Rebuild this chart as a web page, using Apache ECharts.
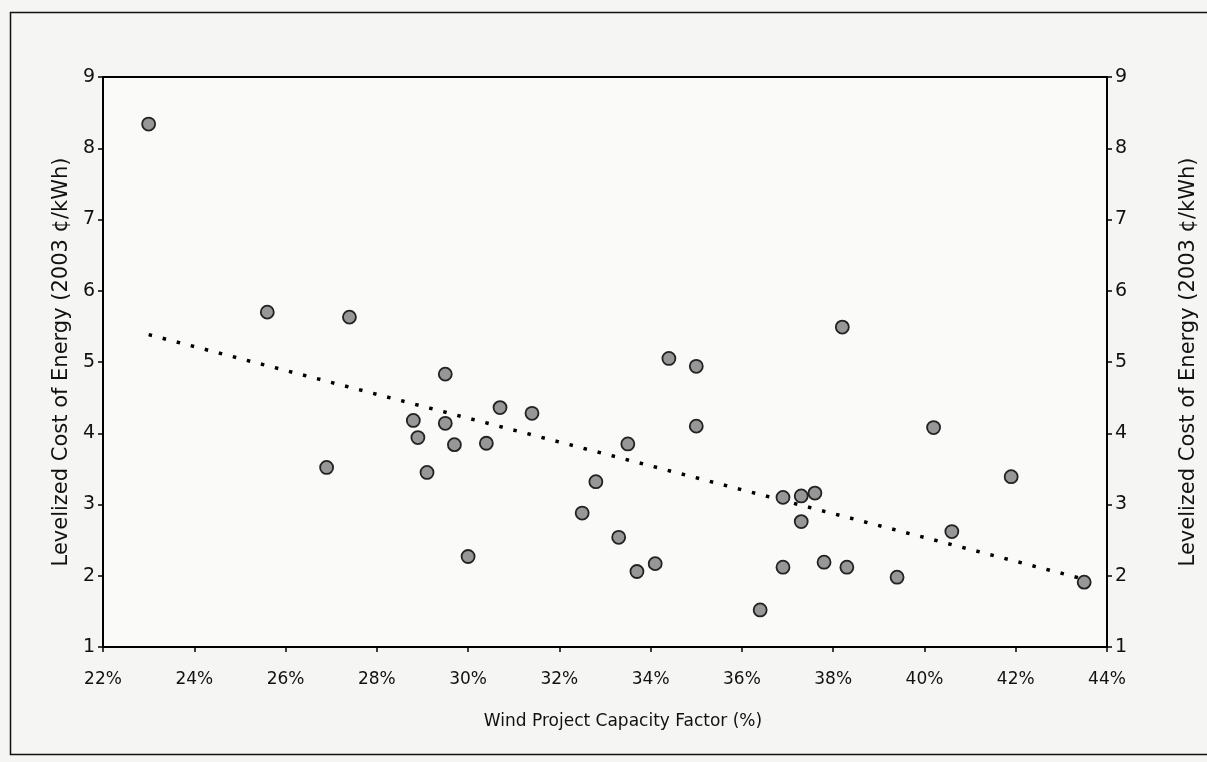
<!DOCTYPE html>
<html>
<head>
<meta charset="utf-8">
<script src="https://cdn.jsdelivr.net/npm/echarts@6/dist/echarts.min.js"></script>
<style>
html,body{margin:0;padding:0;background:#f5f5f3;}
#chart{width:1207px;height:762px;}
</style>
</head>
<body>
<div id="chart"></div>
<script>
// Wind project capacity factor (%) for each project
const capacityFactor = [
  23.0, 25.6, 27.4, 29.5, 34.4, 35.0, 38.2, 26.9, 28.8, 28.9,
  29.5, 29.7, 29.1, 30.7, 30.4, 31.4, 30.0, 32.8, 32.5, 33.5,
  35.0, 33.3, 33.7, 34.1, 36.9, 37.3, 37.6, 37.3, 36.9, 37.8,
  38.3, 36.4, 40.2, 41.9, 40.6, 39.4, 43.5
];
// Levelized cost of energy (2003 ¢/kWh) for each project
const levelizedCost = [
  8.34, 5.70, 5.63, 4.83, 5.05, 4.94, 5.49, 3.52, 4.18, 3.94,
  4.14, 3.84, 3.45, 4.36, 3.86, 4.28, 2.27, 3.32, 2.88, 3.85,
  4.10, 2.54, 2.06, 2.17, 3.10, 3.12, 3.16, 2.76, 2.12, 2.19,
  2.12, 1.52, 4.08, 3.39, 2.62, 1.98, 1.91
];
const xTicks = {min: 22, max: 44, step: 2};
const yTicks = {min: 1, max: 9, step: 1};
const xTitle = 'Wind Project Capacity Factor (%)';
const yTitle = 'Levelized Cost of Energy (2003 ¢/kWh)';

const points = capacityFactor.map((x, i) => [x, levelizedCost[i]]);

// Linear (least-squares) trendline, as in the spreadsheet chart
const n = points.length;
const mx = capacityFactor.reduce((a, b) => a + b, 0) / n;
const my = levelizedCost.reduce((a, b) => a + b, 0) / n;
let sxy = 0, sxx = 0;
for (let i = 0; i < n; i++) {
  sxy += (capacityFactor[i] - mx) * (levelizedCost[i] - my);
  sxx += (capacityFactor[i] - mx) * (capacityFactor[i] - mx);
}
const slope = sxy / sxx;
const intercept = my - slope * mx;
const xLo = Math.min(...capacityFactor), xHi = Math.max(...capacityFactor);
const trend = [[xLo, intercept + slope * xLo], [xHi, intercept + slope * xHi]];

const font = 'DejaVu Sans, Liberation Sans, Arial, sans-serif';
const chart = echarts.init(document.getElementById('chart'));
const yAxisBase = {
  type: 'value', min: yTicks.min, max: yTicks.max, interval: yTicks.step,
  name: yTitle, nameLocation: 'middle',
  nameTextStyle: {fontFamily: font, fontSize: 21, color: '#111'},
  axisLine: {show: true, lineStyle: {color: '#000', width: 2}},
  axisTick: {show: true, inside: false, length: 5, lineStyle: {color: '#000', width: 1.5}},
  axisLabel: {fontFamily: font, fontSize: 19, color: '#111', margin: 8},
  splitLine: {show: false}
};
chart.setOption({
  backgroundColor: '#f5f5f3',
  animation: false,
  graphic: [{
    type: 'rect', left: 8, top: 10, shape: {width: 1220, height: 742},
    style: {fill: 'none', stroke: '#111', lineWidth: 1.5}, silent: true
  }],
  grid: {left: 103, top: 77, width: 1005, height: 570, show: true,
         backgroundColor: '#fafaf9', borderColor: '#000', borderWidth: 2},
  xAxis: {
    type: 'value', min: xTicks.min, max: xTicks.max, interval: xTicks.step,
    name: xTitle, nameLocation: 'middle', nameGap: 66,
    nameTextStyle: {fontFamily: font, fontSize: 17, color: '#111', padding: [0, 0, 0, 36]},
    axisLine: {show: true, onZero: false, lineStyle: {color: '#000', width: 2}},
    axisTick: {show: true, inside: false, length: 5, lineStyle: {color: '#000', width: 1.5}},
    axisLabel: {fontFamily: font, fontSize: 17, color: '#111', margin: 24,
                formatter: '{value}%'},
    splitLine: {show: false}
  },
  yAxis: [
    Object.assign({}, yAxisBase, {position: 'left', nameGap: 21}),
    Object.assign({}, yAxisBase, {position: 'right', nameGap: 71,
      nameRotate: 90})
  ],
  series: [
    {
      type: 'line', data: trend, yAxisIndex: 0, symbol: 'none', silent: true,
      lineStyle: {color: '#000', width: 3.5, type: [3.5, 11]}, z: 1
    },
    {
      type: 'scatter', data: points, yAxisIndex: 0, symbol: 'circle', symbolSize: 13,
      itemStyle: {color: '#979797', borderColor: '#222', borderWidth: 1.8, opacity: 1},
      z: 3
    }
  ]
});
</script>
</body>
</html>
